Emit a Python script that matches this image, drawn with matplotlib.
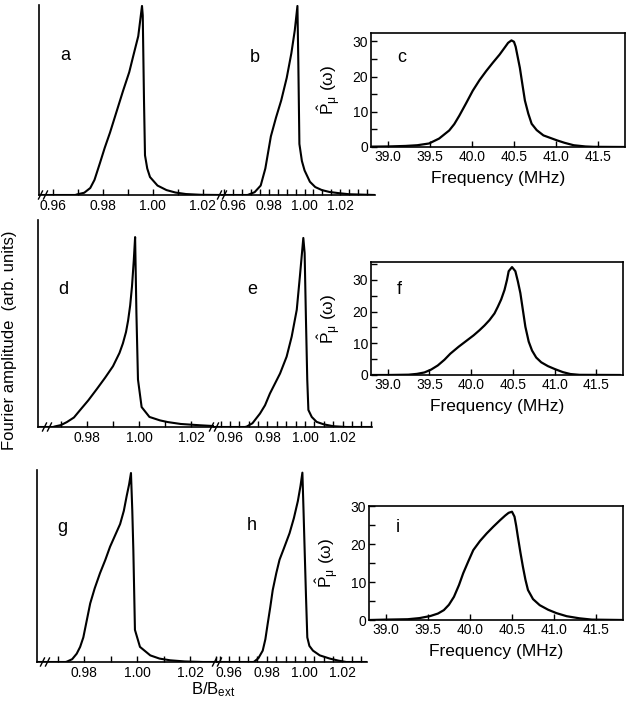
import matplotlib.pyplot as plt
from matplotlib.lines import Line2D
from matplotlib.ticker import MultipleLocator, FormatStrFormatter

W, H = 628, 702
plt.rcParams["font.family"] = ["Liberation Sans", "DejaVu Sans"]
plt.rcParams["mathtext.fontset"] = "custom"
plt.rcParams["mathtext.rm"] = "Liberation Sans"
plt.rcParams["mathtext.it"] = "Liberation Sans:italic"

# ---- field distributions (B/B_ext, normalised amplitude) ----
a_x = [0.9546, 0.9691, 0.9698, 0.9727, 0.9751, 0.9768, 0.9790, 0.9809, 0.9830, 0.9856,
       0.9882, 0.9907, 0.9922, 0.9943, 0.9958, 0.9961, 0.9966, 0.9970, 0.9979, 0.9990,
       1.0020, 1.0056, 1.0092, 1.0134, 1.0195, 1.0278]
a_y = [0, 0, 0.003, 0.012, 0.037, 0.08, 0.17, 0.25, 0.33, 0.44,
       0.55, 0.65, 0.73, 0.84, 1.0, 0.95, 0.5, 0.21, 0.14, 0.095,
       0.05, 0.026, 0.013, 0.005, 0.001, 0]

b_x = [0.9537, 0.968, 0.9686, 0.972, 0.9754, 0.978, 0.9811, 0.984, 0.9869, 0.990,
       0.9926, 0.9945, 0.996, 0.9965, 0.9971, 0.9985, 1.000, 1.003, 1.006, 1.0097,
       1.014, 1.019, 1.025, 1.0395]
b_y = [0, 0, 0.002, 0.015, 0.05, 0.14, 0.31, 0.41, 0.5, 0.62,
       0.75, 0.87, 1.0, 0.7, 0.27, 0.18, 0.13, 0.07, 0.042, 0.026,
       0.016, 0.01, 0.004, 0]

d_x = [0.9612, 0.967, 0.9677, 0.970, 0.9723, 0.975, 0.9773, 0.9805, 0.9838, 0.987,
       0.990, 0.9925, 0.9938, 0.995, 0.9958, 0.9966, 0.9973, 0.998, 0.9985, 0.999,
       0.9996, 1.001, 1.004, 1.008, 1.011, 1.016, 1.0235, 1.0288]
d_y = [0, 0, 0.003, 0.01, 0.026, 0.05, 0.088, 0.14, 0.2, 0.26,
       0.32, 0.39, 0.44, 0.5, 0.56, 0.64, 0.74, 0.88, 1.0, 0.6,
       0.25, 0.105, 0.053, 0.035, 0.026, 0.016, 0.009, 0.005]

e_x = [0.9515, 0.968, 0.9689, 0.972, 0.976, 0.9787, 0.9813, 0.984, 0.9867, 0.9902,
       0.9929, 0.9956, 0.9973, 0.9991, 0.9998, 1.0005, 1.0012, 1.0018, 1.0036, 1.0062,
       1.010, 1.0151, 1.022, 1.0357]
e_y = [0, 0, 0.002, 0.02, 0.071, 0.115, 0.177, 0.23, 0.283, 0.372,
       0.478, 0.62, 0.8, 1.0, 0.92, 0.57, 0.25, 0.09, 0.053, 0.027,
       0.014, 0.004, 0, 0]

g_x = [0.9622, 0.973, 0.9735, 0.9755, 0.9772, 0.9785, 0.9797, 0.981, 0.9823, 0.984,
       0.986, 0.988, 0.9898, 0.9917, 0.9936, 0.995, 0.9961, 0.997, 0.9977, 0.9982,
       0.9986, 0.9992, 1.0011, 1.005, 1.0085, 1.0125, 1.018, 1.025, 1.0302]
g_y = [0, 0, 0.002, 0.015, 0.044, 0.08, 0.13, 0.22, 0.31, 0.39,
       0.47, 0.54, 0.61, 0.67, 0.73, 0.8, 0.88, 0.94, 1.0, 0.8,
       0.59, 0.17, 0.08, 0.035, 0.018, 0.009, 0.003, 0, 0]

h_x = [0.9536, 0.973, 0.9733, 0.9755, 0.9778, 0.9792, 0.9804, 0.9818, 0.9831, 0.985,
       0.9867, 0.989, 0.992, 0.9943, 0.9964, 0.9978, 0.9988, 0.9994, 1.000, 1.0007,
       1.0014, 1.0025, 1.0044, 1.008, 1.0133, 1.018, 1.022, 1.033]
h_y = [0, 0, 0.002, 0.02, 0.06, 0.12, 0.2, 0.29, 0.38, 0.47,
       0.54, 0.6, 0.68, 0.76, 0.85, 0.93, 1.0, 0.8, 0.59, 0.35,
       0.13, 0.085, 0.06, 0.035, 0.018, 0.007, 0, 0]

# ---- muon frequency spectra ----
c_x = [38.8, 39.0, 39.21, 39.35, 39.49, 39.61, 39.73, 39.79, 39.85, 39.93,
       40.01, 40.09, 40.17, 40.25, 40.33, 40.40, 40.43, 40.47, 40.50, 40.52,
       40.545, 40.57, 40.60, 40.63, 40.67, 40.71, 40.77, 40.85, 41.01, 41.1,
       41.21, 41.35, 41.45, 41.82]
c_y = [0.1, 0.15, 0.3, 0.5, 1.0, 2.4, 4.7, 6.5, 8.9, 12.4,
       16, 19, 21.6, 24, 26.3, 28.6, 29.6, 30.3, 29.9, 28.5,
       25.5, 22.5, 17.8, 13.2, 9.5, 6.6, 4.8, 3.3, 1.9, 1.2,
       0.5, 0.15, 0.05, 0]

f_x = [38.82, 39.0, 39.25, 39.35, 39.44, 39.52, 39.6, 39.68, 39.75, 39.85,
       39.95, 40.03, 40.1, 40.16, 40.22, 40.28, 40.32, 40.36, 40.40, 40.43,
       40.45, 40.49, 40.53, 40.56, 40.59, 40.62, 40.65, 40.69, 40.73, 40.78,
       40.84, 40.92, 41.0, 41.1, 41.19, 41.3, 41.78]
f_y = [0, 0, 0.1, 0.35, 0.8, 1.7, 3.0, 4.8, 6.7, 8.9,
       10.9, 12.5, 14.1, 15.6, 17.3, 19.4, 21.5, 23.8, 26.8, 30,
       32.7, 34, 32.7, 29.5, 25.8, 20.5, 15.2, 10.5, 7.7, 5.5,
       4.0, 2.8, 1.9, 0.9, 0.3, 0.05, 0]

i_x = [38.81, 39.0, 39.26, 39.4, 39.53, 39.62, 39.69, 39.75, 39.81, 39.87,
       39.92, 39.98, 40.04, 40.12, 40.2, 40.28, 40.36, 40.42, 40.46, 40.5,
       40.53, 40.55, 40.57, 40.6, 40.63, 40.66, 40.69, 40.75, 40.83, 40.93,
       41.03, 41.15, 41.3, 41.45, 41.81]
i_y = [0, 0.1, 0.2, 0.5, 1.05, 1.7, 2.6, 4.0, 6.1, 9.2,
       12.3, 15.4, 18.4, 20.8, 22.8, 24.6, 26.3, 27.5, 28.2, 28.5,
       27.2, 24.8, 21.9, 17.8, 14, 10.6, 7.9, 5.5, 3.9, 2.7,
       1.8, 1.0, 0.45, 0.1, 0]

freq_ticks = [39.0, 39.5, 40.0, 40.5, 41.0, 41.5]


def px(x0, y0, x1, y1):
    return [x0 / W, 1 - y1 / H, (x1 - x0) / W, (y1 - y0) / H]


def break_mark(fig, x, y):
    for dx in (-2.5, 2.5):
        fig.add_artist(Line2D([(x + dx - 2) / W, (x + dx + 2) / W],
                              [1 - (y + 4) / H, 1 - (y - 4) / H],
                              transform=fig.transFigure, color="k", lw=1))


def field_panel(fig, box, xlim, ytop, x, y, minor, spine):
    ax = fig.add_axes(px(*box))
    ax.plot(x, y, color="k", lw=1.5)
    ax.set_xlim(xlim)
    ax.set_ylim(0, ytop)
    for s in ["top", "right"]:
        ax.spines[s].set_visible(False)
    ax.spines["left"].set_visible(spine)
    for s in ["left", "bottom"]:
        ax.spines[s].set_linewidth(1.2)
    ax.set_yticks([])
    ax.xaxis.set_major_locator(MultipleLocator(0.02))
    ax.xaxis.set_minor_locator(MultipleLocator(minor))
    ax.xaxis.set_major_formatter(FormatStrFormatter("%.2f"))
    ax.tick_params(axis="x", which="both", direction="in", length=4, width=1,
                   labelsize=10, pad=3)
    ax.patch.set_visible(False)
    return ax


def freq_panel(fig, box, ytop, x, y):
    ax = fig.add_axes(px(*box))
    ax.plot(x, y, color="k", lw=1.6)
    ax.set_xlim(38.8, 41.82)
    ax.set_ylim(0, ytop)
    ax.set_xticks(freq_ticks)
    ax.xaxis.set_major_formatter(FormatStrFormatter("%.1f"))
    ax.set_yticks([0, 10, 20, 30])
    ax.yaxis.set_minor_locator(MultipleLocator(5))
    ax.tick_params(which="both", direction="in", length=4, width=1,
                   labelsize=10, pad=2)
    for s in ax.spines.values():
        s.set_linewidth(1.2)
    ax.set_xlabel("Frequency (MHz)", fontsize=12.5, labelpad=5)
    ax.set_ylabel(r"$\hat{\mathrm{P}}_{\mathrm{\mu}}\ (\mathrm{\omega})$", fontsize=12.5)
    ax.yaxis.set_label_coords(-0.11, 0.5)
    return ax


fig = plt.figure(figsize=(W / 100, H / 100), dpi=100)

# row 1
field_panel(fig, (39, 5, 222, 195), (0.9546, 1.0278), 1.005, a_x, a_y, 0.01, True)
field_panel(fig, (222, 5, 375, 195), (0.9537, 1.0395), 1.005, b_x, b_y, 0.005, False)
freq_panel(fig, (371, 33, 625, 147), 32.4, c_x, c_y)
break_mark(fig, 43, 195)
break_mark(fig, 222, 195)

# row 2
field_panel(fig, (38, 220, 214, 427), (0.9612, 1.0288), 1.09, d_x, d_y, 0.01, True)
field_panel(fig, (214, 220, 372, 427), (0.9515, 1.0357), 1.095, e_x, e_y, 0.005, False)
freq_panel(fig, (371, 262, 623, 375), 35.6, f_x, f_y)
break_mark(fig, 47, 427)
break_mark(fig, 214, 427)

# row 3
field_panel(fig, (37, 470, 217, 662), (0.9622, 1.0302), 1.016, g_x, g_y, 0.01, True)
field_panel(fig, (217, 470, 367, 662), (0.9536, 1.033), 1.014, h_x, h_y, 0.005, False)
freq_panel(fig, (369, 506, 623, 620), 30, i_x, i_y)
break_mark(fig, 45, 662)
break_mark(fig, 217, 662)

# panel letters
letters = ["a", "b", "c", "d", "e", "f", "g", "h", "i"]
letter_pos = [(65, 55), (255, 57), (402, 57), (63, 290), (252, 290), (399, 290),
              (62, 527), (252, 526), (398, 527)]
for t, (lx, ly) in zip(letters, letter_pos):
    fig.text(lx / W, 1 - ly / H, t, fontsize=13, ha="center", va="center")

fig.text(10 / W, 1 - 340 / H, "Fourier amplitude  (arb. units)", fontsize=12,
         rotation=90, ha="center", va="center")
fig.text(213 / W, 1 - 690 / H, r"B/B$_{\mathrm{ext}}$", fontsize=12,
         ha="center", va="center")

fig.savefig("out.png", dpi=100)
